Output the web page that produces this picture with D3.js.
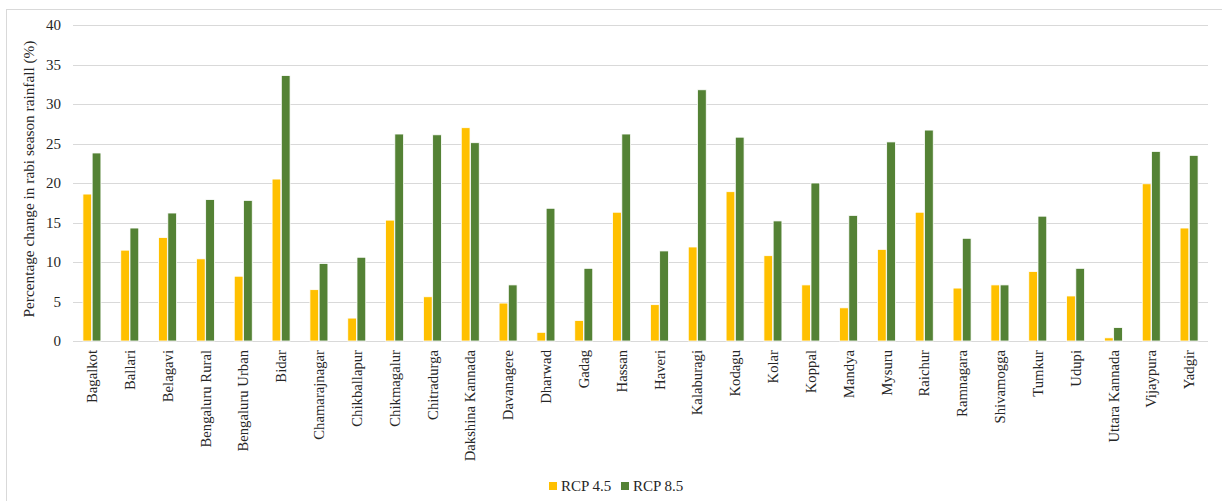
<!DOCTYPE html>
<html>
<head>
<meta charset="utf-8">
<script src="https://cdn.jsdelivr.net/npm/d3@7"></script>
<style>
  body { margin: 0; background: #fff; }
  text { font-family: "Liberation Serif", "DejaVu Serif", serif; fill: #262626; }
</style>
</head>
<body>
<div id="chart"></div>
<script>
// Districts and projected change in rabi season rainfall (%)
const districts = ["Bagalkot", "Ballari", "Belagavi", "Bengaluru Rural", "Bengaluru Urban", "Bidar",
  "Chamarajnagar", "Chikballapur", "Chikmagalur", "Chitradurga", "Dakshina Kannada", "Davanagere",
  "Dharwad", "Gadag", "Hassan", "Haveri", "Kalaburagi", "Kodagu", "Kolar", "Koppal", "Mandya",
  "Mysuru", "Raichur", "Ramnagara", "Shivamogga", "Tumkur", "Udupi", "Uttara Kannada", "Vijaypura", "Yadgir"];

const rcp45 = [18.6, 11.5, 13.1, 10.4, 8.2, 20.5, 6.5, 2.9, 15.3, 5.6, 27.0, 4.8,
  1.1, 2.6, 16.3, 4.6, 11.9, 18.9, 10.8, 7.1, 4.2, 11.6, 16.3, 6.7, 7.1, 8.8, 5.7, 0.4, 19.9, 14.3];
const rcp85 = [23.8, 14.3, 16.2, 17.9, 17.8, 33.6, 9.8, 10.6, 26.2, 26.1, 25.1, 7.1,
  16.8, 9.2, 26.2, 11.4, 31.8, 25.8, 15.2, 20.0, 15.9, 25.2, 26.7, 13.0, 7.1, 15.8, 9.2, 1.7, 24.0, 23.5];

const seriesNames = ["RCP 4.5", "RCP 8.5"];
const colors = ["#FFC000", "#548235"];
const yTicks = [0, 5, 10, 15, 20, 25, 30, 35, 40];

const W = 1222, H = 501;
const margin = { top: 25, right: 14, bottom: 160, left: 73 };
const width = W - margin.left - margin.right;
const height = H - margin.top - margin.bottom;

const svg = d3.select("#chart").append("svg")
  .attr("width", W).attr("height", H);

// outer chart border
svg.append("rect")
  .attr("x", 6.5).attr("y", 9.5)
  .attr("width", W).attr("height", H)
  .attr("fill", "none").attr("stroke", "#d9d9d9");

const g = svg.append("g").attr("transform", `translate(${margin.left},${margin.top})`);

const x = d3.scaleBand().domain(districts).range([0, width]).paddingInner(0.5).paddingOuter(0.25);
const xs = d3.scaleBand().domain(seriesNames).range([0, x.bandwidth()]).padding(0.05);
const y = d3.scaleLinear().domain([0, 40]).range([height, 0]);

// gridlines
g.append("g").selectAll("line").data(yTicks).join("line")
  .attr("x1", 0).attr("x2", width)
  .attr("y1", d => Math.round(y(d)) + 0.5).attr("y2", d => Math.round(y(d)) + 0.5)
  .attr("stroke", "#d9d9d9").attr("stroke-width", 1.2);

// y axis labels
const yAxis = g.append("g").call(d3.axisLeft(y).tickValues(yTicks).tickSize(0).tickPadding(12));
yAxis.select(".domain").remove();
yAxis.selectAll("text").style("font-size", "15px").style("font-family", "Liberation Serif, serif").attr("fill", "#404040");

// bars
const rows = districts.map((d, i) => ({ district: d, vals: [rcp45[i], rcp85[i]] }));
const grp = g.selectAll(".grp").data(rows).join("g")
  .attr("class", "grp")
  .attr("transform", d => `translate(${x(d.district)},0)`);

grp.selectAll("rect").data(d => d.vals.map((v, k) => ({ key: seriesNames[k], v, k }))).join("rect")
  .attr("x", d => xs(d.key))
  .attr("y", d => y(d.v))
  .attr("width", xs.bandwidth())
  .attr("height", d => height - y(d.v))
  .attr("fill", d => colors[d.k])
  .attr("stroke", "#fff").attr("stroke-width", 0.8);

// x axis labels
const xAxis = g.append("g").attr("transform", `translate(0,${height})`)
  .call(d3.axisBottom(x).tickSize(0).tickPadding(0));
xAxis.select(".domain").remove();
xAxis.selectAll("text")
  .style("font-size", "14.7px").style("font-family", "Liberation Serif, serif").attr("fill", "#262626")
  .attr("transform", "rotate(-90)")
  .attr("text-anchor", "end")
  .attr("x", -9).attr("y", 0).attr("dy", "0.35em");

// y axis title
svg.append("text")
  .attr("transform", `translate(29,${margin.top + 154}) rotate(-90)`)
  .attr("text-anchor", "middle")
  .attr("dy", "0.35em")
  .style("font-size", "15.3px")
  .text("Percentage change in rabi season rainfall (%)");

// legend
const legend = svg.append("g").attr("transform", "translate(549,486)");
const li = legend.selectAll("g").data(seriesNames).join("g")
  .attr("transform", (d, i) => `translate(${i * 72},0)`);
li.append("rect").attr("x", 0).attr("y", -4).attr("width", 8).attr("height", 8)
  .attr("fill", (d, i) => colors[i]);
li.append("text").attr("x", 12).attr("dy", "0.35em").style("font-size", "15px").text(d => d);
</script>
</body>
</html>
